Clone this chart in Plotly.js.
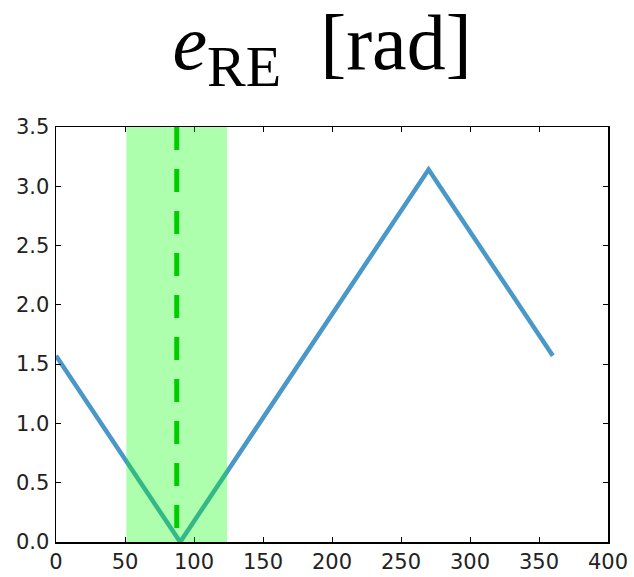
<!DOCTYPE html>
<html>
<head>
<meta charset="utf-8">
<script src="https://cdn.plot.ly/plotly-3.0.1.min.js"></script>
<style>html,body{margin:0;padding:0;background:#fff;}#chart{width:634px;height:577px;}</style>
</head>
<body>
<div id="chart"></div>
<script>
// Data
const angleDeg = [0, 90, 270, 360];
const errorRad = [1.5708, 0, 3.1416, 1.5708];
const bandRange = [51, 124];
const markerX = 87.5;
const xTicks = [0, 50, 100, 150, 200, 250, 300, 350, 400];
const yTicks = [0.0, 0.5, 1.0, 1.5, 2.0, 2.5, 3.0, 3.5];
const yTickText = ['0.0','0.5','1.0','1.5','2.0','2.5','3.0','3.5'];

const trace = {
  x: angleDeg, y: errorRad, mode: 'lines', type: 'scatter',
  line: {color: '#4a98c8', width: 4.5},
  hoverinfo: 'skip'
};

const tickFont = {family: 'DejaVu Sans', size: 21, color: '#222'};

const layout = {
  width: 634, height: 577,
  margin: {l: 56, r: 26, t: 127, b: 35, pad: 0},
  paper_bgcolor: '#fff', plot_bgcolor: '#fff',
  showlegend: false,
  title: {
    text: '<i>e</i><sub><span style="font-size:58px">RE</span></sub>\u00a0\u00a0[rad]',
    font: {family: 'Liberation Serif', size: 78, color: '#000'},
    x: 0.482, xanchor: 'center', xref: 'paper',
    y: 0.88, yanchor: 'bottom', yref: 'container'
  },
  xaxis: {
    range: [0, 400], tickvals: xTicks, ticktext: xTicks.map(String),
    ticks: 'inside', ticklen: 5, tickwidth: 1, tickcolor: '#000',
    showline: true, linecolor: '#000', linewidth: 1.5, mirror: 'ticks',
    showgrid: false, zeroline: false, tickfont: tickFont, ticklabelstandoff: 0
  },
  yaxis: {
    range: [0, 3.5], tickvals: yTicks, ticktext: yTickText,
    ticks: 'inside', ticklen: 5, tickwidth: 1, tickcolor: '#000',
    showline: true, linecolor: '#000', linewidth: 1.5, mirror: 'ticks',
    showgrid: false, zeroline: false, tickfont: tickFont, ticklabelstandoff: 1
  },
  shapes: [
    {type: 'rect', xref: 'x', yref: 'paper', x0: bandRange[0], x1: bandRange[1], y0: 0, y1: 1,
     fillcolor: 'rgba(0,255,0,0.32)', line: {width: 0}, layer: 'above'},
    {type: 'line', xref: 'x', yref: 'paper', x0: markerX, x1: markerX, y0: 1, y1: 0,
     line: {color: '#00cc00', width: 5, dash: '23px,19px'}, layer: 'above'}
  ]
};

Plotly.newPlot('chart', [trace], layout, {staticPlot: true, displayModeBar: false});
</script>
</body>
</html>
